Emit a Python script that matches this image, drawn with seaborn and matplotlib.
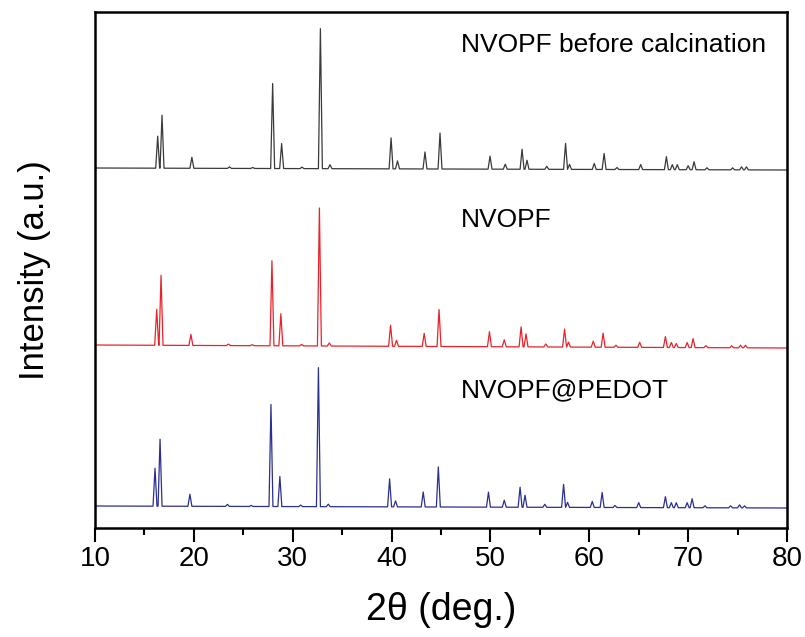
import numpy as np
import pandas as pd
import matplotlib
matplotlib.use("Agg")
import matplotlib.pyplot as plt
from matplotlib.ticker import MultipleLocator
import seaborn as sns

# Peak positions (2θ, deg) and heights (a.u.) for each sample
black_pos = [16.34, 16.78, 19.8, 23.6, 25.95, 27.97, 28.88, 30.94, 32.8, 33.77,
             39.95, 40.6, 43.38, 44.9, 49.96, 51.5, 53.2, 53.7, 55.7, 57.6,
             58.0, 60.5, 61.5, 62.8, 65.2, 67.8, 68.4, 68.9, 70.0, 70.6,
             71.9, 74.5, 75.4, 75.9]
black_hgt = [32, 53, 11, 1.5, 1, 85, 25, 1.5, 140, 4,
             31, 8, 17, 36, 13, 5, 20, 9, 3, 26,
             5, 6, 16, 2, 5, 13, 5, 5, 4, 8,
             2, 2, 3, 3]

red_pos = [16.24, 16.68, 19.7, 23.5, 25.9, 27.9, 28.8, 30.9, 32.7, 33.7,
           39.9, 40.5, 43.3, 44.8, 49.9, 51.4, 53.1, 53.6, 55.6, 57.5,
           57.9, 60.4, 61.4, 62.7, 65.1, 67.7, 68.3, 68.8, 69.9, 70.5,
           71.8, 74.4, 75.3, 75.8]
red_hgt = [36, 70, 11, 1.5, 1, 85, 32, 1.5, 138, 3,
           21, 6, 13, 37, 15, 7, 20, 13, 3, 18,
           5, 6, 14, 2, 5, 11, 5, 4, 5, 9,
           2, 2, 2.5, 2.5]

blue_pos = [16.07, 16.58, 19.6, 23.4, 25.8, 27.8, 28.7, 30.8, 32.6, 33.6,
            39.8, 40.4, 43.2, 44.73, 49.8, 51.4, 53.0, 53.5, 55.5, 57.4,
            57.8, 60.3, 61.3, 62.6, 65.0, 67.7, 68.3, 68.8, 69.9, 70.4,
            71.7, 74.3, 75.2, 75.7]
blue_hgt = [38, 67, 12, 2, 1, 102, 30, 1.5, 139, 2.5,
            28, 6, 15, 40, 15, 7, 20, 12, 3, 23,
            5, 6, 15, 2, 5, 11, 5, 5, 5, 9,
            2, 2, 3, 2]

# Stacking offsets (baseline level at 10° and at 80°)
black_base = [360, 358]
red_base = [183, 180]
blue_base = [22, 20]

samples = ["NVOPF before calcination", "NVOPF", "NVOPF@PEDOT"]
colors = ["#3a3a3a", "#e8232a", "#2b2f8f"]
x_range = [10, 80]
x_ticks = [10, 20, 30, 40, 50, 60, 70, 80]

HALF_BASE = 0.2  # half width of each peak foot, deg


def trace(pos, hgt, base):
    """Polyline through the baseline and each peak foot/top."""
    xs = [x_range[0]]
    ys = [0.0]
    for p, h in zip(pos, hgt):
        xs += [p - HALF_BASE, p, p + HALF_BASE]
        ys += [0.0, h, 0.0]
    xs.append(x_range[1])
    ys.append(0.0)
    xs = np.array(xs)
    ys = np.array(ys)
    drift = base[0] + (base[1] - base[0]) * (xs - x_range[0]) / (x_range[1] - x_range[0])
    return xs, ys + drift


frames = []
for name, pos, hgt, base in zip(samples,
                                [black_pos, red_pos, blue_pos],
                                [black_hgt, red_hgt, blue_hgt],
                                [black_base, red_base, blue_base]):
    xs, ys = trace(pos, hgt, base)
    frames.append(pd.DataFrame({"two_theta": xs, "intensity": ys, "sample": name}))
df = pd.concat(frames, ignore_index=True)

sns.set_style("white")
plt.rcParams["font.family"] = ["Liberation Sans", "DejaVu Sans"]
plt.rcParams["text.color"] = "black"
plt.rcParams["axes.labelcolor"] = "black"
plt.rcParams["xtick.color"] = "black"
plt.rcParams["xtick.labelcolor"] = "black"

fig = plt.figure(figsize=(8.05, 6.37), dpi=100)
ax = fig.add_axes([95 / 805, 1 - 528 / 637, (787 - 95) / 805, (528 - 12) / 637])

sns.lineplot(data=df, x="two_theta", y="intensity", hue="sample",
             palette=dict(zip(samples, colors)), estimator=None, sort=False,
             linewidth=0.9, legend=False, ax=ax)

ax.set_xlim(*x_range)
ax.set_ylim(0, 516)
ax.set_xticks(x_ticks)
ax.xaxis.set_minor_locator(MultipleLocator(5))
ax.set_yticks([])
ax.tick_params(axis="x", which="major", direction="out", length=10, width=1.5,
               labelsize=20, pad=3, color="black", labelcolor="black", bottom=True)
ax.tick_params(axis="x", which="minor", direction="out", length=5, width=1.5,
               color="black", bottom=True)
for sp in ax.spines.values():
    sp.set_visible(True)
    sp.set_linewidth(1.8)
    sp.set_color("black")

ax.set_xlabel("2θ (deg.)", fontsize=27, labelpad=14, color="black")
ax.set_ylabel("Intensity (a.u.)", fontsize=25, labelpad=32, color="black")

label_y = [476, 301, 131]
for name, y in zip(samples, label_y):
    ax.text(47.0, y, name, fontsize=19, ha="left", va="baseline", color="black")

fig.savefig("out.png", dpi=100)
